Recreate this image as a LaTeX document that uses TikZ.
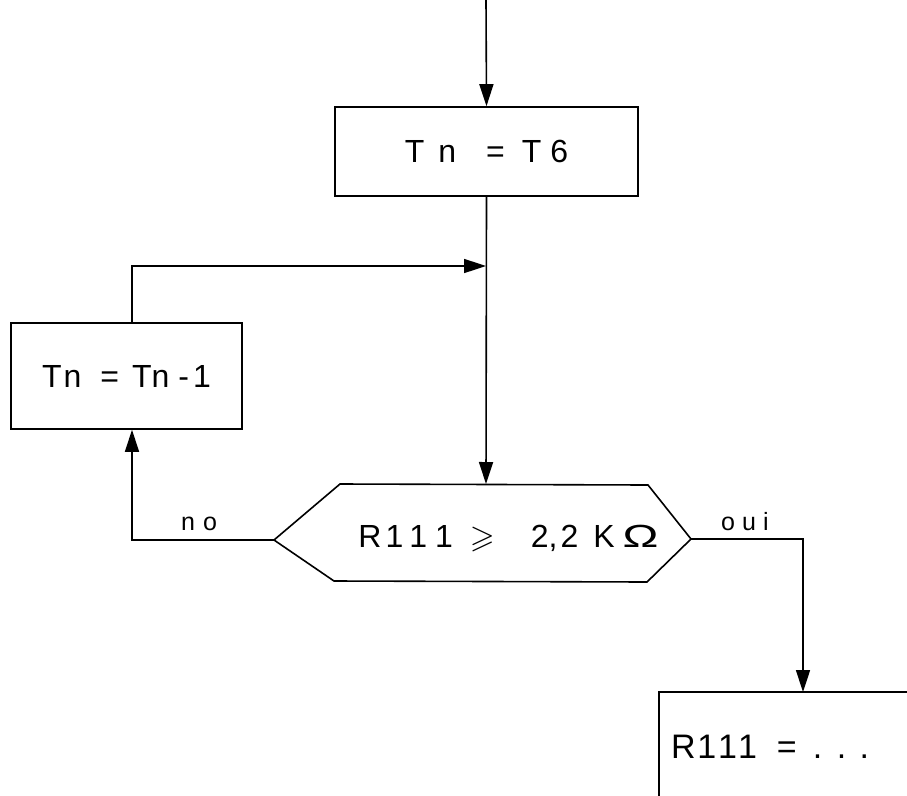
\documentclass[tikz,border=0pt]{standalone}
\usepackage{amssymb}
\usepackage{graphicx}
\usepackage{fontspec}
\setmainfont{Liberation Sans}
\usetikzlibrary{arrows.meta,calc}
\newcommand\hs[1]{\hspace{#1pt}}
\begin{document}
\begin{tikzpicture}[x=1pt,y=-1pt,
  line/.style={line width=1.6pt, line join=miter},
  flow/.style={line, -{Triangle[length=22pt,width=14pt]}},
  box/.style={draw, line width=1.6pt, rectangle, inner sep=0pt,
              font=\fontsize{32}{36}\selectfont},
  txt/.style={inner sep=0pt, font=\fontsize{32}{36}\selectfont},
  lbl/.style={inner sep=0pt, anchor=base west, font=\fontsize{25}{29}\selectfont}]
\useasboundingbox (0,0) rectangle (907,795);
\fill[white] (0,0) rectangle (907,795);

% boxes
\node[box, minimum width=303pt, minimum height=89pt] (box1) at (486.5,151.5)
  {T\hs{14}n\hs{30}=\hs{17}T\hs{9}6};
\node[box, minimum width=231pt, minimum height=106pt] (box2) at (126.5,376)
  {T\hs{2}n\hs{19}=\hs{13}T\hs{0}n\hs{9}-\hs{4}1\hs{16}};

% decision (hexagon)
\coordinate (hexL) at (274,540);
\coordinate (hexR) at (691,539);
\coordinate (hexT) at (486,484);
\draw[line] (hexL) -- (340,484) -- (648,485) -- (hexR) -- (647,582) -- (334,581) -- cycle;
\node[txt, anchor=base] (hex) at (508.5,547)
  {R\hs{4}1\hs{6}1\hs{8}1\hs{17}$\geqslant$\hs{36}2\hs{0},\hs{3}2\hs{15}K\hs{8}\scalebox{1.5}[1]{Ω}};

% result box (runs off the page)
\coordinate (b3) at (659,692);
\coordinate (b3in) at (803,692);
\draw[line] (930,692) -- (b3) -- (659,820);
\node[txt, anchor=base west, font=\fontsize{34}{38}\selectfont] (box3) at (671,758)
  {R\hs{1.5}1\hs{2}1\hs{1}1\hs{20}=\hs{16}.\hs{14.5}.\hs{13.5}.};

% connectors
\coordinate (start) at (486,0);
\coordinate (J) at (486,266);
\draw[flow] (start) -- (box1.north);
\draw[flow] (box1.south) -- (hexT);
\draw[flow] ([xshift=5.5pt]box2.north) |- (J);
\draw[flow] (hexL) -| ([xshift=5.5pt]box2.south);
\draw[flow] (hexR) -| (b3in);

% labels
\node[lbl] (no) at (181,530) {n\hs{8}o};
\node[lbl] (oui) at (721,530) {o\hs{7}u\hs{7}i};
\end{tikzpicture}
\end{document}
